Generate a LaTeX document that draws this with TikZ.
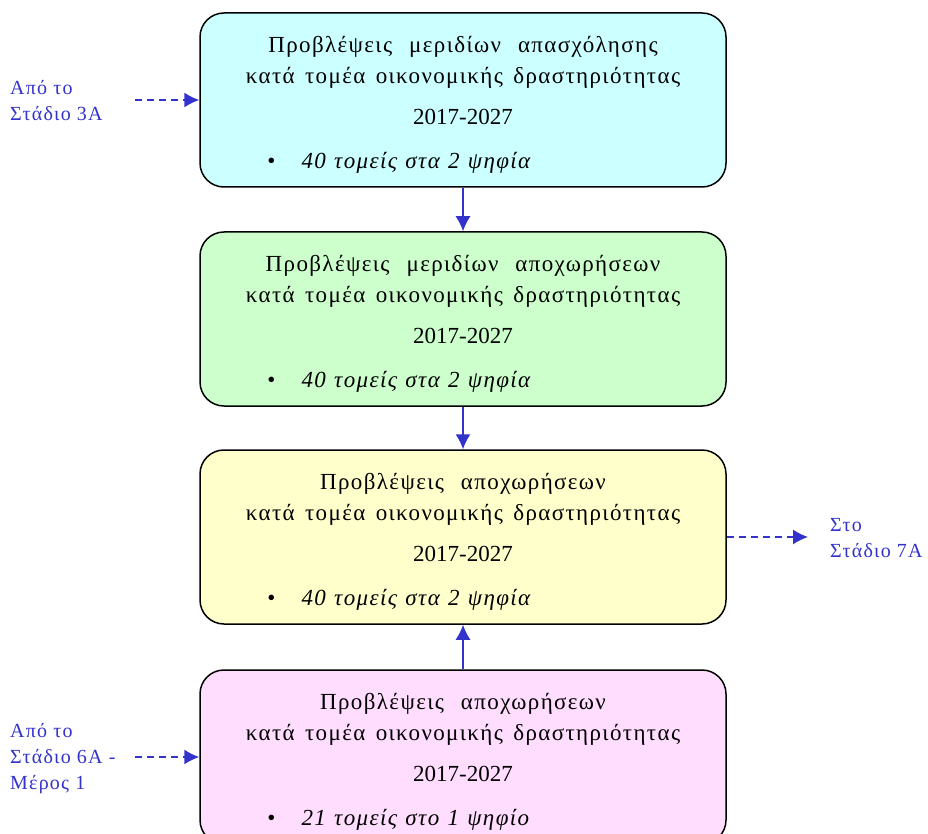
\documentclass[tikz,border=0pt]{standalone}
\usepackage{fontspec}
\setmainfont{Liberation Serif}
\newfontfamily\spaced[LetterSpace=6]{Liberation Serif}
\newcommand\headfont{\spaced\fontsize{23}{31}\selectfont\spaceskip 0.45em\relax}
\newcommand\itemfont{\spaced\fontsize{23}{26}\selectfont\spaceskip 0.36em\relax}
\newcommand\wgap{\hspace{17pt}}
\usetikzlibrary{positioning,arrows.meta}
\definecolor{flowblue}{HTML}{3333CC}
\definecolor{fillcyan}{HTML}{CCFFFF}
\definecolor{fillgreen}{HTML}{CCFFCC}
\definecolor{fillyellow}{HTML}{FFFFCC}
\definecolor{fillpink}{HTML}{FFDDFF}
\begin{document}
\begin{tikzpicture}
[x=1pt,y=-1pt,stage/.style={draw,line width=1.5pt,rounded corners=24pt,minimum width=526pt,minimum height=174pt},head/.style={anchor=north,align=center,inner sep=0pt,font=\headfont},item/.style={anchor=base west,inner sep=0pt,font=\itemfont},side/.style={anchor=west,align=left,inner sep=0pt,text=flowblue,font=\spaced\fontsize{20}{26}\selectfont},flow/.style={draw=flowblue,line width=1.5pt,-{Latex[length=15pt,width=15pt]}},dashflow/.style={flow,dash pattern=on 7pt off 5pt},]
\useasboundingbox (0,0) rectangle (928,834);
% stage boxes
\node[stage,fill=fillcyan] (s1) at (463,100) {};
\node[stage,fill=fillgreen] (s2) at (463,319) {};
\node[stage,fill=fillyellow] (s3) at (463,537) {};
\node[stage,fill=fillpink] (s4) at (463,757) {};
% texts
\node[head] (h1) at ([yshift=-24pt]s1.north) {Προβλέψεις\wgap μεριδίων\wgap απασχόλησης\\κατά τομέα οικονομικής δραστηριότητας\\[10pt]{\rmfamily 2017-2027}};
\node[item] (i1) at ([xshift=68pt,yshift=-156pt]s1.north west) {\textbullet\hspace{26pt}\textit{40 τομείς στα 2 ψηφία}};
\node[head] (h2) at ([yshift=-24pt]s2.north) {Προβλέψεις\wgap μεριδίων\wgap αποχωρήσεων\\κατά τομέα οικονομικής δραστηριότητας\\[10pt]{\rmfamily 2017-2027}};
\node[item] (i2) at ([xshift=68pt,yshift=-156pt]s2.north west) {\textbullet\hspace{26pt}\textit{40 τομείς στα 2 ψηφία}};
\node[head] (h3) at ([yshift=-24pt]s3.north) {Προβλέψεις\wgap αποχωρήσεων\\κατά τομέα οικονομικής δραστηριότητας\\[10pt]{\rmfamily 2017-2027}};
\node[item] (i3) at ([xshift=68pt,yshift=-156pt]s3.north west) {\textbullet\hspace{26pt}\textit{40 τομείς στα 2 ψηφία}};
\node[head] (h4) at ([yshift=-24pt]s4.north) {Προβλέψεις\wgap αποχωρήσεων\\κατά τομέα οικονομικής δραστηριότητας\\[10pt]{\rmfamily 2017-2027}};
\node[item] (i4) at ([xshift=68pt,yshift=-156pt]s4.north west) {\textbullet\hspace{26pt}\textit{21 τομείς στο 1 ψηφίο}};
% side labels
\node[side] (l1) at (10,101) {Από το\\Στάδιο 3Α};
\node[side] (l2) at (830,538) {Στο\\Στάδιο 7Α};
\node[side] (l3) at (10,759) {Από το\\Στάδιο 6Α -\\Μέρος 1};
\coordinate (c1) at (135,100);
\coordinate (c2) at (808,537);
\coordinate (c3) at (135,757);
% connectors
\draw[flow] (s1.south) -- (s2.north);
\draw[flow] (s2.south) -- (s3.north);
\draw[flow] (s4.north) -- (s3.south);
\draw[dashflow] (c1) -- (s1.west);
\draw[dashflow] (s3.east) -- (c2);
\draw[dashflow] (c3) -- (s4.west);
\end{tikzpicture}
\end{document}
